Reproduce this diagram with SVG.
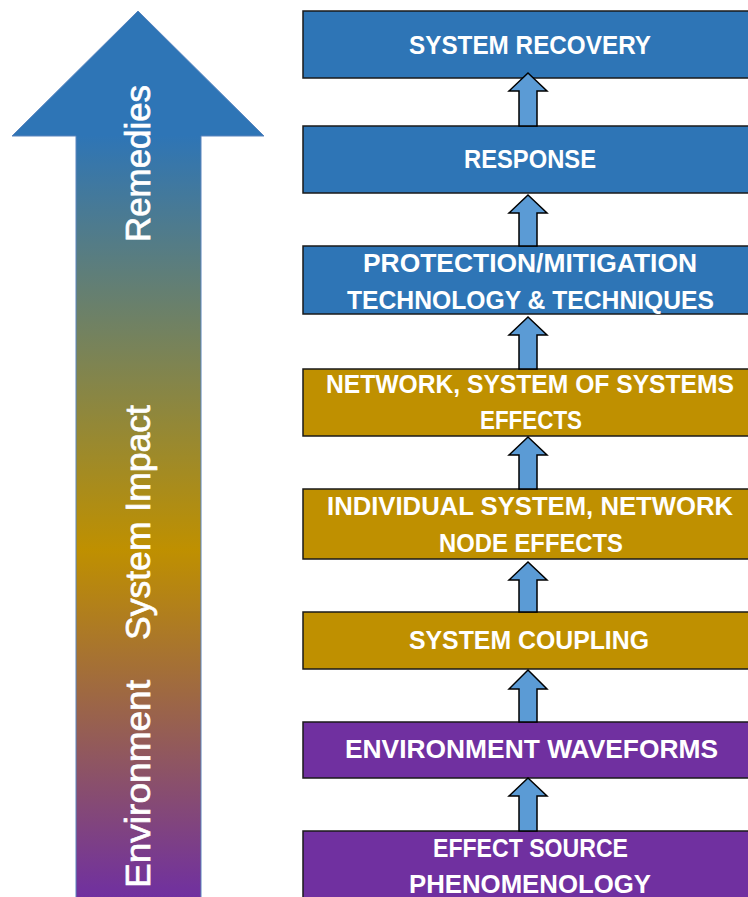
<svg xmlns="http://www.w3.org/2000/svg" width="748" height="897" viewBox="0 0 748 897">
<defs>
<linearGradient id="g" x1="0" y1="11" x2="0" y2="897" gradientUnits="userSpaceOnUse">
<stop offset="0" stop-color="#2E75B6"/>
<stop offset="0.14" stop-color="#2E75B6"/>
<stop offset="0.608" stop-color="#BF9000"/>
<stop offset="1" stop-color="#7030A0"/>
</linearGradient>
<style>
.box{stroke:#1a1a1a;stroke-width:1.5}
.blue{fill:#2E75B6}
.gold{fill:#BF9000}
.purple{fill:#7030A0}
.bt{font-family:"Liberation Sans",Arial,sans-serif;font-weight:bold;font-size:26px;fill:#fff;text-anchor:middle}
.side{font-family:"Liberation Sans",Arial,sans-serif;font-size:35px;fill:#fff;stroke:#fff;stroke-width:0.7;text-anchor:middle}
.conn path{fill:#5B9BD5;stroke:#000;stroke-width:1.5;stroke-linejoin:miter}
</style>
</defs>
<rect width="748" height="897" fill="#fff"/>
<g id="bigarrow">
<polygon points="138,11 264,136 201,136 201,900 76,900 76,136 12,136" fill="url(#g)" stroke="#5A85BE" stroke-width="1"/>
<text class="side" transform="translate(150,163.5) rotate(-90)" textLength="157" lengthAdjust="spacingAndGlyphs">Remedies</text>
<text class="side" transform="translate(150,522.5) rotate(-90)" textLength="235" lengthAdjust="spacingAndGlyphs">System Impact</text>
<text class="side" transform="translate(150,784) rotate(-90)" textLength="208" lengthAdjust="spacingAndGlyphs">Environment</text>
</g>
<g id="n1"><rect class="box blue" x="303" y="11" width="460" height="67"/><text class="bt" x="530" y="54" textLength="242" lengthAdjust="spacingAndGlyphs">SYSTEM RECOVERY</text></g>
<g id="n2"><rect class="box blue" x="303" y="126" width="460" height="67"/><text class="bt" x="530" y="168" textLength="132" lengthAdjust="spacingAndGlyphs">RESPONSE</text></g>
<g id="n3"><rect class="box blue" x="303" y="246" width="460" height="68"/><text class="bt" x="530" y="272" textLength="334" lengthAdjust="spacingAndGlyphs">PROTECTION/MITIGATION</text><text class="bt" x="530.5" y="309" textLength="367" lengthAdjust="spacingAndGlyphs">TECHNOLOGY &amp; TECHNIQUES</text></g>
<g id="n4"><rect class="box gold" x="303" y="369" width="460" height="67"/><text class="bt" x="530" y="393" textLength="408" lengthAdjust="spacingAndGlyphs">NETWORK, SYSTEM OF SYSTEMS</text><text class="bt" x="531" y="429" textLength="102" lengthAdjust="spacingAndGlyphs">EFFECTS</text></g>
<g id="n5"><rect class="box gold" x="303" y="489" width="460" height="70"/><text class="bt" x="530" y="515" textLength="406" lengthAdjust="spacingAndGlyphs">INDIVIDUAL SYSTEM, NETWORK</text><text class="bt" x="531" y="552" textLength="184" lengthAdjust="spacingAndGlyphs">NODE EFFECTS</text></g>
<g id="n6"><rect class="box gold" x="303" y="612" width="460" height="57"/><text class="bt" x="529" y="649" textLength="240" lengthAdjust="spacingAndGlyphs">SYSTEM COUPLING</text></g>
<g id="n7"><rect class="box purple" x="303" y="722" width="460" height="56"/><text class="bt" x="531.5" y="758" textLength="373" lengthAdjust="spacingAndGlyphs">ENVIRONMENT WAVEFORMS</text></g>
<g id="n8"><rect class="box purple" x="303" y="831" width="460" height="80"/><text class="bt" x="530.5" y="857" textLength="195" lengthAdjust="spacingAndGlyphs">EFFECT SOURCE</text><text class="bt" x="530" y="893" textLength="242" lengthAdjust="spacingAndGlyphs">PHENOMENOLOGY</text></g>
<g id="connectors" class="conn">
<path d="M528,73 L547,91 L537,91 L537,126 L519,126 L519,91 L509,91 Z"/>
<path d="M528,195 L547,213 L537,213 L537,246 L519,246 L519,213 L509,213 Z"/>
<path d="M528,317 L547,335 L537,335 L537,369 L519,369 L519,335 L509,335 Z"/>
<path d="M528,437 L547,455 L537,455 L537,489 L519,489 L519,455 L509,455 Z"/>
<path d="M528,562 L547,580 L537,580 L537,612 L519,612 L519,580 L509,580 Z"/>
<path d="M528,670 L547,689 L537,689 L537,722 L519,722 L519,689 L509,689 Z"/>
<path d="M528,778 L547,796 L537,796 L537,831 L519,831 L519,796 L509,796 Z"/>
</g>
</svg>
